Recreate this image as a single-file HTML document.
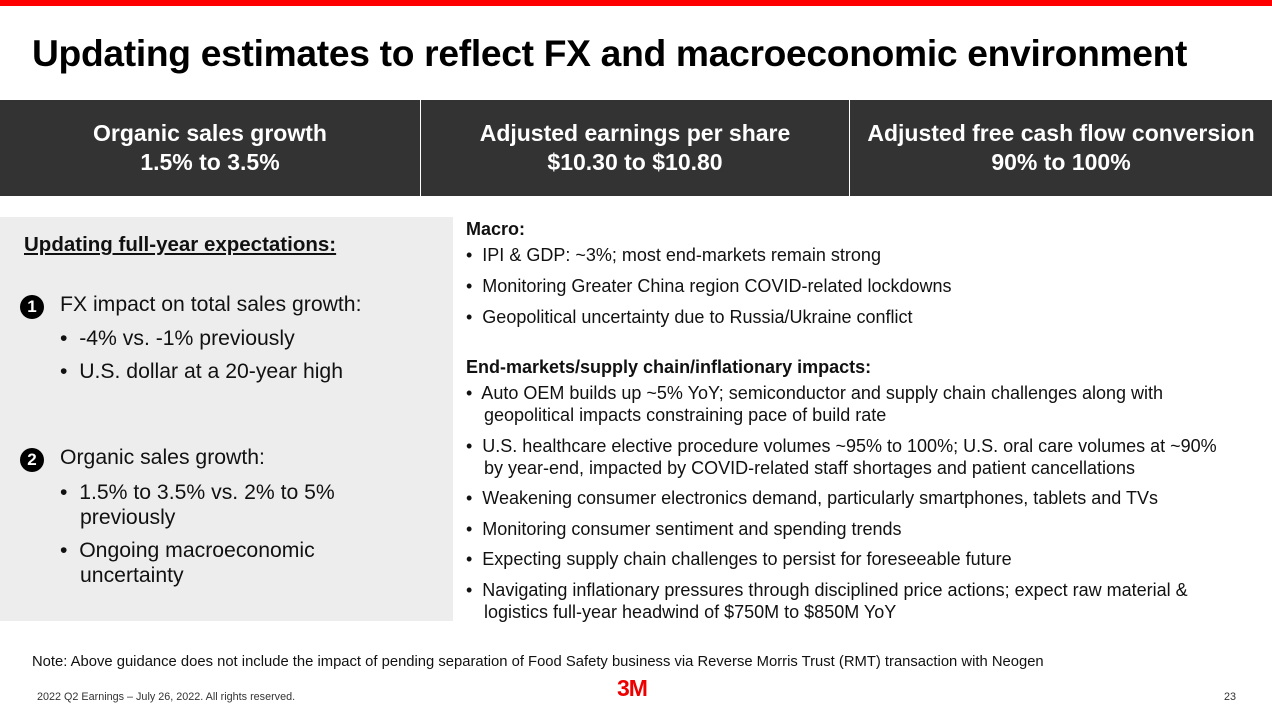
<!DOCTYPE html>
<html><head><meta charset="utf-8"><style>
body{margin:0;width:1272px;height:714px;position:relative;background:#fff;font-family:"Liberation Sans",sans-serif;color:#111;overflow:hidden}
.a{position:absolute;white-space:nowrap}
.red{left:0;top:0;width:1272px;height:6px;background:#f00}
h1{position:absolute;left:32px;top:32px;margin:0;font-size:37.2px;font-weight:bold;letter-spacing:-0.3px;color:#000}
.band{position:absolute;top:100px;height:96px;background:#333;color:#fff;font-weight:bold;font-size:23px;text-align:center;line-height:29px;display:flex;align-items:center;justify-content:center}
.gray{left:0;top:217px;width:453px;height:404px;background:#ededed}
.l{font-size:21.2px;color:#111}
.r{font-size:18px;color:#111}
.b{font-weight:bold}
.num{position:absolute;width:24px;height:24px;border-radius:50%;background:#000;color:#fff;font-weight:bold;font-size:17px;text-align:center;line-height:24px}
</style></head><body>
<div class="a red"></div>
<h1>Updating estimates to reflect FX and macroeconomic environment</h1>
<div class="band" style="left:0;width:420px">Organic sales growth<br>1.5% to 3.5%</div>
<div class="band" style="left:421px;width:428px">Adjusted earnings per share<br>$10.30 to $10.80</div>
<div class="band" style="left:850px;width:422px">Adjusted free cash flow conversion<br>90% to 100%</div>
<div class="a gray"></div>
<div class="a l b" style="left:24px;top:233px;font-size:20.5px;text-decoration:underline">Updating full-year expectations:</div>
<div class="num" style="left:20px;top:295px">1</div>
<div class="a l" style="left:60px;top:293px">FX impact on total sales growth:</div>
<div class="a l" style="left:60px;top:327px">•&nbsp; -4% vs. -1% previously</div>
<div class="a l" style="left:60px;top:360px">•&nbsp; U.S. dollar at a 20-year high</div>
<div class="num" style="left:20px;top:448px">2</div>
<div class="a l" style="left:60px;top:446px">Organic sales growth:</div>
<div class="a l" style="left:60px;top:481px">•&nbsp; 1.5% to 3.5% vs. 2% to 5%</div>
<div class="a l" style="left:80px;top:506px">previously</div>
<div class="a l" style="left:60px;top:539px">•&nbsp; Ongoing macroeconomic</div>
<div class="a l" style="left:80px;top:564px">uncertainty</div>

<div class="a r b" style="left:466px;top:219px">Macro:</div>
<div class="a r" style="left:466px;top:245px">•&nbsp; IPI &amp; GDP: ~3%; most end-markets remain strong</div>
<div class="a r" style="left:466px;top:276px">•&nbsp; Monitoring Greater China region COVID-related lockdowns</div>
<div class="a r" style="left:466px;top:307px">•&nbsp; Geopolitical uncertainty due to Russia/Ukraine conflict</div>
<div class="a r b" style="left:466px;top:357px">End-markets/supply chain/inflationary impacts:</div>
<div class="a r" style="left:466px;top:383px">•&nbsp; Auto OEM builds up ~5% YoY; semiconductor and supply chain challenges along with</div>
<div class="a r" style="left:484px;top:405px">geopolitical impacts constraining pace of build rate</div>
<div class="a r" style="left:466px;top:436px">•&nbsp; U.S. healthcare elective procedure volumes ~95% to 100%; U.S. oral care volumes at ~90%</div>
<div class="a r" style="left:484px;top:458px">by year-end, impacted by COVID-related staff shortages and patient cancellations</div>
<div class="a r" style="left:466px;top:488px">•&nbsp; Weakening consumer electronics demand, particularly smartphones, tablets and TVs</div>
<div class="a r" style="left:466px;top:519px">•&nbsp; Monitoring consumer sentiment and spending trends</div>
<div class="a r" style="left:466px;top:549px">•&nbsp; Expecting supply chain challenges to persist for foreseeable future</div>
<div class="a r" style="left:466px;top:580px">•&nbsp; Navigating inflationary pressures through disciplined price actions; expect raw material &amp;</div>
<div class="a r" style="left:484px;top:602px">logistics full-year headwind of $750M to $850M YoY</div>

<div class="a" style="left:32px;top:654px;font-size:14.8px">Note: Above guidance does not include the impact of pending separation of Food Safety business via Reverse Morris Trust (RMT) transaction with Neogen</div>
<div class="a" style="left:617px;top:675px;font-size:23px;font-weight:bold;color:#e00;letter-spacing:-1px">3M</div>
<div class="a" style="left:37px;top:691px;font-size:10.8px;color:#333">2022 Q2 Earnings – July 26, 2022. All rights reserved.</div>
<div class="a" style="left:1224px;top:691px;font-size:10.8px;color:#333">23</div>
</body></html>
